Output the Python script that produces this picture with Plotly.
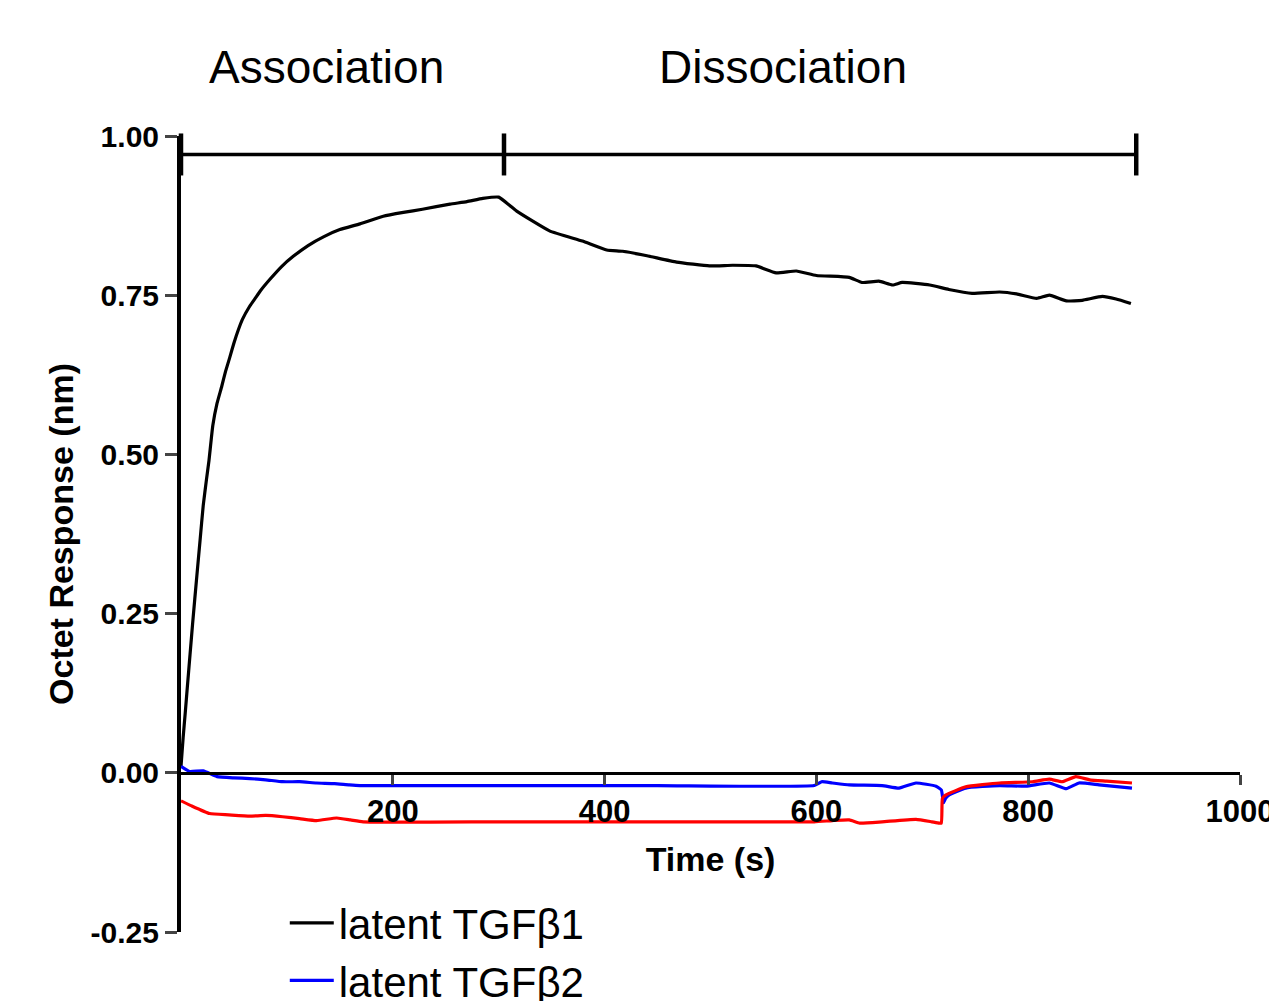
import plotly.graph_objects as go

# ---------------- data ----------------
series_names = ["latent TGF\u03b21", "latent TGF\u03b22", "latent TGF\u03b23"]
series_colors = ["#000000", "#0000FF", "#FF0000"]

t_tgfb1 = [0, 2, 4, 6, 8.5, 11, 15, 18, 21, 24, 26.4, 30, 34, 38.5, 42, 46, 50, 54, 58,
           65, 70, 75, 84, 95, 106, 120, 135, 150, 169, 191, 210, 228, 254, 270, 285,
           300, 317, 348, 379, 402, 417, 440, 468, 499, 521, 543, 562, 581, 600, 631,
           643, 659, 672, 681, 707, 725, 747, 773, 789, 808, 820, 836, 851, 870, 883,
           897]
v_tgfb1 = [0.010, 0.055, 0.094, 0.135, 0.185, 0.235, 0.310, 0.365, 0.420, 0.460, 0.490,
           0.545, 0.580, 0.607, 0.630, 0.652, 0.675, 0.695, 0.712, 0.733, 0.745, 0.757,
           0.775, 0.795, 0.811, 0.828, 0.842, 0.853, 0.862, 0.874, 0.880, 0.885, 0.893,
           0.897, 0.902, 0.904, 0.882, 0.851, 0.835, 0.821, 0.819, 0.812, 0.802, 0.796,
           0.797, 0.796, 0.785, 0.788, 0.781, 0.778, 0.770, 0.772, 0.766, 0.770, 0.766,
           0.759, 0.753, 0.755, 0.752, 0.745, 0.750, 0.741, 0.742, 0.748, 0.744, 0.737]

t_tgfb2 = [0, 8, 21, 34, 50, 65, 80, 96, 112, 128, 145, 159, 169, 300, 450, 598, 605,
           615, 631, 662, 678, 694, 713, 718, 720, 722, 725, 741, 773, 798, 820, 836,
           848, 867, 898]
v_tgfb2 = [0.010, 0.002, 0.003, -0.006, -0.008, -0.009, -0.011, -0.014, -0.014, -0.016,
           -0.017, -0.019, -0.020, -0.020, -0.020, -0.020, -0.014, -0.016, -0.019,
           -0.020, -0.024, -0.016, -0.021, -0.027, -0.047, -0.040, -0.035, -0.024,
           -0.020, -0.021, -0.016, -0.025, -0.016, -0.019, -0.024]

t_tgfb3 = [0, 10, 27, 45, 65, 80, 96, 112, 128, 147, 160, 172, 300, 450, 598, 615, 631,
           641, 662, 694, 709, 716, 718, 719, 722, 741, 773, 804, 820, 832, 845, 858,
           874, 898]
v_tgfb3 = [-0.044, -0.052, -0.064, -0.066, -0.068, -0.067, -0.069, -0.072, -0.075,
           -0.071, -0.074, -0.077, -0.077, -0.077, -0.077, -0.075, -0.074, -0.079,
           -0.077, -0.073, -0.077, -0.079, -0.079, -0.040, -0.035, -0.022, -0.016,
           -0.014, -0.010, -0.014, -0.006, -0.011, -0.013, -0.016]

phase_names = ["Association", "Dissociation"]
phase_bounds = [0, 305, 902]

x_ticks = [200, 400, 600, 800, 1000]
y_ticks = [-0.25, 0.0, 0.25, 0.50, 0.75, 1.00]
y_tick_labels = ["-0.25", "0.00", "0.25", "0.50", "0.75", "1.00"]

# ---------------- figure ----------------
FONT = "Arial, 'Liberation Sans', sans-serif"
fig = go.Figure()

for name, color, xs, ys in zip(series_names, series_colors,
                               [t_tgfb1, t_tgfb2, t_tgfb3],
                               [v_tgfb1, v_tgfb2, v_tgfb3]):
    fig.add_trace(go.Scatter(x=xs, y=ys, mode="lines", name=name,
                             line=dict(color=color, width=3.2, shape="spline",
                                       smoothing=0.4),
                             cliponaxis=False))

# phase bar
bar_y = 0.971
fig.add_trace(go.Scatter(
    x=phase_bounds, y=[bar_y] * len(phase_bounds), mode="lines+markers",
    line=dict(color="black", width=3.5),
    marker=dict(symbol="line-ns", size=30, line=dict(color="black", width=4.5)),
    showlegend=False, cliponaxis=False, hoverinfo="skip"))

label_x = [137, 568]
for nm, lx in zip(phase_names, label_x):
    fig.add_annotation(x=lx, y=1.0867, xref="x", yref="paper", text=nm,
                       showarrow=False, yanchor="middle",
                       font=dict(family=FONT, size=46, color="black"))

fig.update_layout(
    width=1269, height=1001,
    margin=dict(l=181, r=29, t=136, b=69, autoexpand=False),
    plot_bgcolor="white", paper_bgcolor="white",
    font=dict(family=FONT, color="black"),
    showlegend=True,
    legend=dict(x=0.098, y=0.054, xanchor="left", yanchor="top",
                font=dict(family=FONT, size=42, color="black"),
                bgcolor="rgba(0,0,0,0)", itemwidth=44, tracegroupgap=0),
    xaxis=dict(range=[0, 1000], anchor="free", position=0.2,
               tickvals=x_ticks, ticks="outside", ticklen=10, tickwidth=3,
               showline=True, linewidth=3, linecolor="black", showgrid=False,
               zeroline=False, ticklabeloverflow="allow",
               tickfont=dict(family=FONT, size=31, color="black", weight="bold"),
               title=dict(text="Time (s)", standoff=19,
                          font=dict(family=FONT, size=34, color="black", weight="bold"))),
    yaxis=dict(range=[-0.25, 1.0], tickvals=y_ticks, ticktext=y_tick_labels,
               ticks="outside", ticklen=12, tickwidth=3,
               showline=True, linewidth=4, linecolor="black", showgrid=False,
               zeroline=False,
               tickfont=dict(family=FONT, size=30, color="black", weight="bold"),
               title=dict(text="Octet Response (nm)", standoff=8,
                          font=dict(family=FONT, size=34, color="black", weight="bold"))),
)

fig.write_html("out.html")
